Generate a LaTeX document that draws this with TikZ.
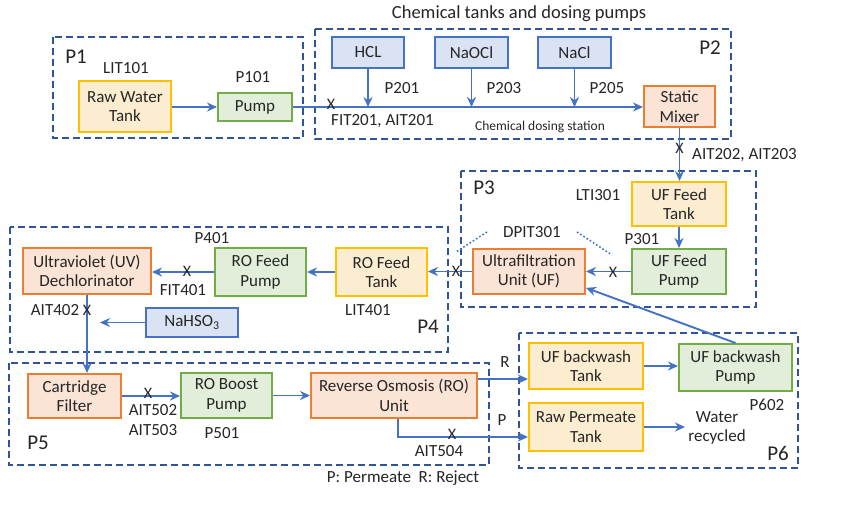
\documentclass[tikz,border=0pt]{standalone}
\usepackage{fontspec}
\setmainfont{Carlito}
\usetikzlibrary{arrows.meta,calc}
\definecolor{frameblue}{HTML}{2F5597}
\definecolor{flow}{HTML}{4472C4}
\definecolor{tankline}{HTML}{FFC000}
\definecolor{tankfill}{HTML}{FDEDD0}
\definecolor{pumpline}{HTML}{70AD47}
\definecolor{pumpfill}{HTML}{E2EEDA}
\definecolor{unitline}{HTML}{ED7D31}
\definecolor{unitfill}{HTML}{FBE3D6}
\definecolor{chemline}{HTML}{4472C4}
\definecolor{chemfill}{HTML}{DAE3F3}
\begin{document}
\begin{tikzpicture}[x=1pt,y=-1pt,
  box/.style={draw, line width=2pt, align=center, inner sep=0pt, text=black!85,
    font=\fontsize{17}{19.5}\selectfont},
  tank/.style={box, draw=tankline, fill=tankfill},
  pumpbox/.style={box, draw=pumpline, fill=pumpfill},
  unit/.style={box, draw=unitline, fill=unitfill},
  chem/.style={box, draw=chemline, fill=chemfill},
  lbl/.style={font=\fontsize{17}{19.5}\selectfont, inner sep=0pt, text=black!85, align=center},
  small/.style={font=\fontsize{13.5}{15}\selectfont, inner sep=0pt, text=black!85},
  plabel/.style={font=\fontsize{21}{24}\selectfont, inner sep=0pt, text=black!85},
  xmark/.style={font=\fontsize{16}{16}\selectfont, inner sep=0pt, text=black!85},
  flowarrow/.style={draw=flow, line width=1.9pt, -{Stealth[length=10pt,width=9pt]}},
  frame/.style={draw=frameblue, line width=2.2pt, dash pattern=on 7pt off 4pt},
  dotline/.style={draw=flow, line width=1.6pt, dash pattern=on 1.6pt off 2.2pt},
]
\useasboundingbox[fill=white] (0,0) rectangle (841,504);

% process frames
\draw[frame] (53,37) rectangle (303,138);
\draw[frame] (315,29) rectangle (731,139);
\draw[frame] (461,171) rectangle (756,307);
\draw[frame] (10,227) rectangle (448,352);
\draw[frame] (9,363) rectangle (489,465);
\draw[frame] (519,333) rectangle (798,468);

\node[plabel] (p1) at (76,57) {P1};
\node[plabel] (p2) at (710,48) {P2};
\node[plabel] (p3) at (484,188) {P3};
\node[plabel] (p4) at (428,327) {P4};
\node[plabel] (p5) at (38,443) {P5};
\node[plabel] (p6) at (778,453) {P6};

\node[lbl, font=\fontsize{18.5}{21}\selectfont] (title) at (519,14) {Chemical tanks and dosing pumps};

% boxes
\node[tank, minimum width=92pt, minimum height=51pt] (rwt) at (125,106.5) {Raw Water\\Tank};
\node[pumpbox, minimum width=74pt, minimum height=28pt] (pump) at (255,107) {Pump};
\node[chem, minimum width=72pt, minimum height=31pt] (hcl) at (368,52.5) {HCL};
\node[chem, minimum width=73pt, minimum height=31pt] (naocl) at (471.5,52.5) {NaOCl};
\node[chem, minimum width=73pt, minimum height=31pt] (nacl) at (574.5,52.5) {NaCl};
\node[unit, minimum width=71pt, minimum height=41pt] (mixer) at (679.5,106.5) {Static\\Mixer};
\node[tank, minimum width=94pt, minimum height=44pt] (uft) at (679,204) {UF Feed\\Tank};
\node[pumpbox, minimum width=94pt, minimum height=45pt] (ufp) at (679,271.5) {UF Feed\\Pump};
\node[unit, minimum width=112pt, minimum height=45pt] (uf) at (529,271.5) {Ultrafiltration\\Unit (UF)};
\node[tank, minimum width=91pt, minimum height=48pt] (roft) at (381.5,272) {RO Feed\\Tank};
\node[pumpbox, minimum width=91pt, minimum height=48pt] (rofp) at (260.5,272) {RO Feed\\Pump};
\node[unit, minimum width=128pt, minimum height=46pt] (uv) at (87,271) {Ultraviolet (UV)\\Dechlorinator};
\node[chem, minimum width=92pt, minimum height=29pt] (nahso) at (192,322.5) {NaHSO\textsubscript{3}};
\node[unit, minimum width=93pt, minimum height=44pt] (cf) at (74.5,396) {Cartridge\\Filter};
\node[pumpbox, minimum width=91pt, minimum height=45pt] (rob) at (226.5,395.5) {RO Boost\\Pump};
\node[unit, minimum width=166pt, minimum height=45pt] (rou) at (394,395.5) {Reverse Osmosis (RO)\\Unit};
\node[tank, minimum width=114pt, minimum height=46pt] (ufbt) at (586,366) {UF backwash\\Tank};
\node[pumpbox, minimum width=113pt, minimum height=47pt] (ufbp) at (735.5,367.5) {UF backwash\\Pump};
\node[tank, minimum width=114pt, minimum height=48pt] (rpt) at (586,427) {Raw Permeate\\Tank};

% labels
\node[lbl] (lit101) at (126,68) {LIT101};
\node[lbl] (p101) at (253,77) {P101};
\node[lbl] (p201) at (402,88) {P201};
\node[lbl] (p203) at (504,88) {P203};
\node[lbl] (p205) at (607,88) {P205};
\node[lbl, anchor=west] (fit201) at (331,121) {FIT201, AIT201};
\node[small] (cds) at (540,127) {Chemical dosing station};
\node[lbl, anchor=west] (ait202) at (692,155) {AIT202, AIT203};
\node[lbl] (lti301) at (598,195) {LTI301};
\node[lbl] (dp) at (532,232) {DPIT301};
\node[lbl] (p301) at (642,239) {P301};
\node[lbl] (p401) at (212,238) {P401};
\node[lbl] (fit401) at (183,290) {FIT401};
\node[lbl] (lit401) at (368,310) {LIT401};
\node[lbl] (ait402) at (55,310) {AIT402};
\node[lbl] (ait502) at (153,410) {AIT502};
\node[lbl] (ait503) at (153,430) {AIT503};
\node[lbl] (p501) at (222,433) {P501};
\node[lbl] (ait504) at (439,451) {AIT504};
\node[lbl] (rlab) at (505,362) {R};
\node[lbl] (plab) at (502,420) {P};
\node[lbl] (legend) at (403,478) {P: Permeate\ \ R: Reject};
\node[lbl] (p602) at (767,405) {P602};
\node[lbl] (water) at (717,428) {Water\\recycled};

% connectors
\draw[flowarrow] (rwt.east |- pump.west) -- (pump.west);
\draw[flowarrow] (pump.east) -- (pump.east -| mixer.west);
\draw[flowarrow] (hcl.south) -- (hcl.south |- pump.east);
\draw[flowarrow] (naocl.south) -- (naocl.south |- pump.east);
\draw[flowarrow] (nacl.south) -- (nacl.south |- pump.east);
\draw[flowarrow] (mixer.south) -- (mixer.south |- uft.north);
\draw[flowarrow] (uft.south) -- (ufp.north);
\draw[flowarrow] (ufp.west) -- (ufp.west -| uf.east);
\draw[flowarrow] (uf.west) -- (uf.west -| roft.east);
\draw[flowarrow] (roft.west) -- (roft.west -| rofp.east);
\draw[flowarrow] (rofp.west) -- (rofp.west -| uv.east);
\draw[flowarrow] (uv.south) -- (uv.south |- cf.north);
\coordinate (nahin) at (100,322.5);
\draw[flowarrow] (nahso.west) -- (nahin);
\draw[flowarrow] (cf.east) -- (cf.east -| rob.west);
\draw[flowarrow] (rob.east) -- (rob.east -| rou.west);
\draw[flowarrow] ([yshift=16.5pt]rou.east) -- ([yshift=16.5pt]rou.east -| ufbt.west);
\coordinate (pturn) at (398,437);
\draw[flowarrow] (rou.south -| pturn) -- (pturn) -- (pturn -| rpt.west);
\draw[flowarrow] (ufbt.east) -- (ufbt.east -| ufbp.west);
\coordinate (wr) at (685,427);
\draw[flowarrow] (rpt.east) -- (wr);
\draw[flowarrow] (ufbp.north) -- (uf.-16);

% sensor marks
\node[xmark] (x201) at (331,104) {X};
\node[xmark] (x202) at (679.5,148) {X};
\node[xmark] (xa) at (456,271) {X};
\node[xmark] (xb) at (613,272) {X};
\node[xmark] (x401) at (187,271) {X};
\node[xmark] (x402) at (87,310) {X};
\node[xmark] (x502) at (148,393) {X};
\node[xmark] (x504) at (452,434) {X};

\draw[dotline] ($(dp.west)+(-16,0)$) -- ($(xa)+(0,-19)$);
\draw[dotline] ($(dp.east)+(16,0)$) -- ($(xb)+(-1,-17)$);
\end{tikzpicture}
\end{document}
